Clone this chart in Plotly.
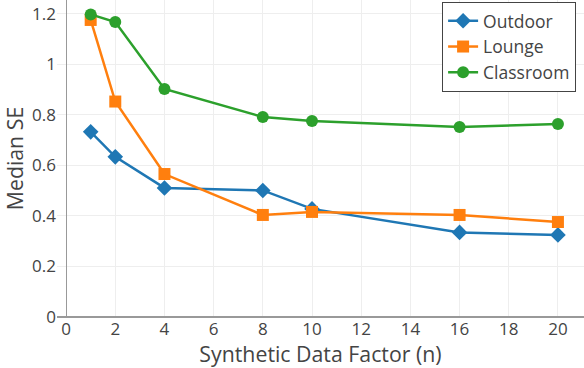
import plotly.graph_objects as go

factors = [1, 2, 4, 8, 10, 16, 20]
outdoor = [0.733, 0.634, 0.511, 0.501, 0.428, 0.335, 0.325]
lounge = [1.176, 0.853, 0.566, 0.404, 0.416, 0.404, 0.376]
classroom = [1.198, 1.168, 0.903, 0.792, 0.776, 0.752, 0.764]

series = [
    ("Outdoor", outdoor, "#1f77b4", "diamond"),
    ("Lounge", lounge, "#ff7f0e", "square"),
    ("Classroom", classroom, "#2ca02c", "circle"),
]

fig = go.Figure()
for name, vals, color, sym in series:
    fig.add_trace(go.Scatter(
        x=factors, y=vals, name=name, mode="lines+markers",
        line=dict(color=color, width=2.5),
        marker=dict(symbol=sym, size=12, color=color),
    ))

fig.update_layout(
    width=584, height=368,
    margin=dict(l=57, r=0, t=0, b=51),
    paper_bgcolor="white", plot_bgcolor="white",
    font=dict(family="Open Sans", color="#444", size=17),
    legend=dict(x=0.985, y=0.994, xanchor="right", yanchor="top",
                bordercolor="#444", borderwidth=1, bgcolor="white",
                font=dict(size=17.5), tracegroupgap=0, itemwidth=30),
    xaxis=dict(range=[-0.37, 21.06], dtick=2, gridcolor="#eee",
               zeroline=True, zerolinecolor="#999", zerolinewidth=1,
               showline=False, ticks="",
               title=dict(text="Synthetic Data Factor (n)", font=dict(size=21.3), standoff=0),
               tickfont=dict(size=17)),
    yaxis=dict(range=[0, 1.255], dtick=0.2, gridcolor="#eee",
               zeroline=True, zerolinecolor="#999", zerolinewidth=2,
               showline=False, ticks="",
               title=dict(text="Median SE", font=dict(size=21.3), standoff=4),
               tickfont=dict(size=17)),
)

fig.write_html("out.html")
